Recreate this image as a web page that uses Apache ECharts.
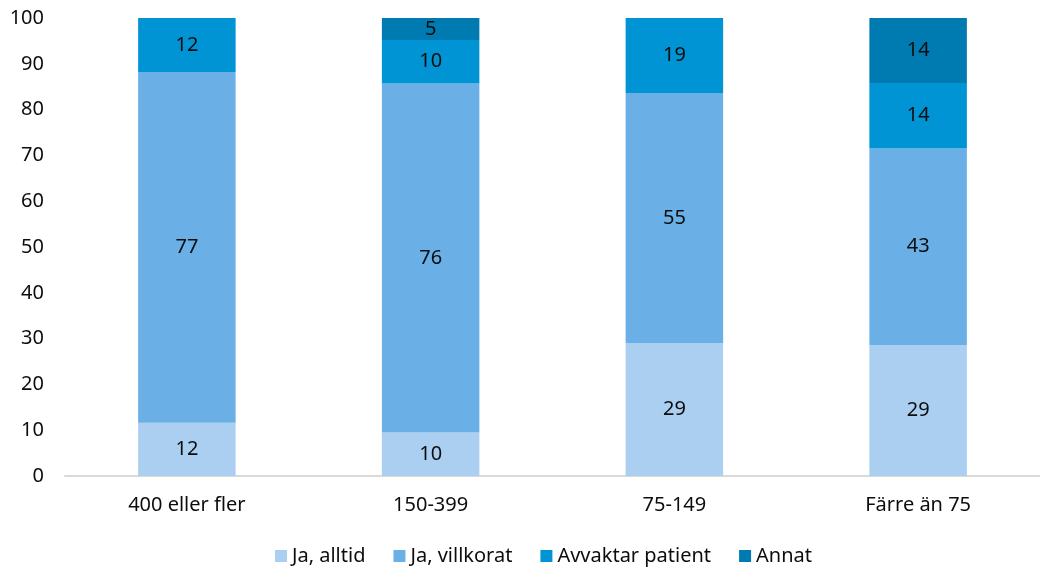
<!DOCTYPE html>
<html>
<head>
<meta charset="utf-8">
<script src="https://cdn.jsdelivr.net/npm/echarts@6/dist/echarts.min.js"></script>
<style>
html,body{margin:0;padding:0;background:#fff;}
#chart{width:1040px;height:567px;}
</style>
</head>
<body>
<div id="chart"></div>
<script>
const categories = ['400 eller fler', '150-399', '75-149', 'Färre än 75'];
const seriesNames = ['Ja, alltid', 'Ja, villkorat', 'Avvaktar patient', 'Annat'];
const jaAlltid = [11.6, 9.5, 29.0, 28.6];
const jaVillkorat = [76.6, 76.2, 54.6, 42.9];
const avvaktarPatient = [11.8, 9.5, 19.2, 14.3];
const annat = [0, 4.8, 0, 14.3];
const yTicks = [0, 10, 20, 30, 40, 50, 60, 70, 80, 90, 100];

const colors = ['#ABCFF0', '#6AB0E6', '#0094D4', '#007BB2'];
const FONT = 'Noto Sans';
const TEXT = '#0d0d0d';
const values = [jaAlltid, jaVillkorat, avvaktarPatient, annat];

const chart = echarts.init(document.getElementById('chart'));
chart.setOption({
  animation: false,
  textStyle: { fontFamily: FONT },
  grid: { left: 65, width: 980, top: 18, bottom: 91, containLabel: false },
  legend: {
    data: seriesNames,
    left: 270,
    top: 541,
    itemWidth: 12,
    itemHeight: 12,
    itemGap: 28,
    icon: 'rect',
    textStyle: { fontFamily: FONT, fontSize: 20, color: TEXT }
  },
  xAxis: {
    type: 'category',
    data: categories,
    axisLine: { lineStyle: { color: '#D9D9D9', width: 2 } },
    axisTick: { show: false },
    axisLabel: { fontFamily: FONT, fontSize: 20, color: TEXT, margin: 19 }
  },
  yAxis: {
    type: 'value',
    min: yTicks[0],
    max: yTicks[yTicks.length - 1],
    interval: yTicks[1] - yTicks[0],
    axisLine: { show: false },
    axisTick: { show: false },
    splitLine: { show: false },
    axisLabel: { fontFamily: FONT, fontSize: 20, color: TEXT, margin: 21 }
  },
  series: seriesNames.map((name, i) => ({
    name: name,
    type: 'bar',
    stack: 'total',
    barWidth: '40%',
    itemStyle: { color: colors[i] },
    label: {
      show: true,
      position: 'inside',
      fontFamily: FONT,
      fontSize: 20,
      color: TEXT,
      formatter: p => (p.value > 0 ? Math.round(p.value) : '')
    },
    data: values[i]
  }))
});
</script>
</body>
</html>
